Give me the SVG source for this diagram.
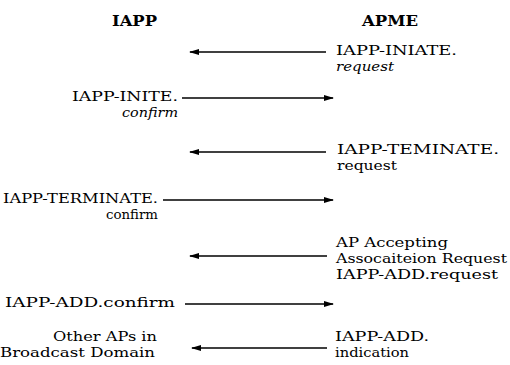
<svg xmlns="http://www.w3.org/2000/svg" width="510" height="365" viewBox="0 0 510 365">
<defs>
<marker id="ah" markerWidth="10" markerHeight="8" refX="9" refY="4" orient="auto" markerUnits="userSpaceOnUse">
<path d="M0,1 L10,4 L0,7 Z" fill="#000"/>
</marker>
</defs>
<style>
text{font-family:"DejaVu Serif","Liberation Serif",serif;font-size:13.6px;fill:#000}
.h{font-weight:bold;font-size:14px}
.i{font-style:italic}
.l{text-anchor:end}
.c line{stroke:#000;stroke-width:1.3;marker-end:url(#ah)}
</style>
<rect width="510" height="365" fill="#fff"/>
<g id="hdr-iapp"><text class="h" x="112" y="26" textLength="45" lengthAdjust="spacingAndGlyphs">IAPP</text></g>
<g id="hdr-apme"><text class="h" x="362" y="26" textLength="56" lengthAdjust="spacingAndGlyphs">APME</text></g>
<g id="n1"><text x="336" y="55" textLength="121" lengthAdjust="spacingAndGlyphs">IAPP-INIATE.</text><text class="i" x="336" y="71" textLength="58" lengthAdjust="spacingAndGlyphs">request</text></g>
<g id="n2"><text class="l" x="178" y="101" textLength="106" lengthAdjust="spacingAndGlyphs">IAPP-INITE.</text><text class="l i" x="178" y="117" textLength="56" lengthAdjust="spacingAndGlyphs">confirm</text></g>
<g id="n3"><text x="337" y="154" textLength="162" lengthAdjust="spacingAndGlyphs">IAPP-TEMINATE.</text><text x="337" y="170" textLength="60" lengthAdjust="spacingAndGlyphs">request</text></g>
<g id="n4"><text class="l" x="158" y="203" textLength="155" lengthAdjust="spacingAndGlyphs">IAPP-TERMINATE.</text><text class="l" x="158" y="219" textLength="52" lengthAdjust="spacingAndGlyphs">confirm</text></g>
<g id="n5"><text x="336" y="247" textLength="112" lengthAdjust="spacingAndGlyphs">AP Accepting</text><text x="336" y="263" textLength="171" lengthAdjust="spacingAndGlyphs">Assocaiteion Request</text><text x="336" y="279" textLength="162" lengthAdjust="spacingAndGlyphs">IAPP-ADD.request</text></g>
<g id="n6"><text class="l" x="175" y="307" textLength="170" lengthAdjust="spacingAndGlyphs">IAPP-ADD.confirm</text></g>
<g id="n7"><text class="l" x="157" y="341" textLength="104" lengthAdjust="spacingAndGlyphs">Other APs in</text><text class="l" x="155" y="357" textLength="155" lengthAdjust="spacingAndGlyphs">Broadcast Domain</text></g>
<g id="n8"><text x="335" y="341" textLength="94" lengthAdjust="spacingAndGlyphs">IAPP-ADD.</text><text x="335" y="357" textLength="74" lengthAdjust="spacingAndGlyphs">indication</text></g>
<g id="connectors" class="c">
<line x1="326" y1="52" x2="190" y2="52"/>
<line x1="182" y1="98" x2="333" y2="98"/>
<line x1="326" y1="152" x2="190" y2="152"/>
<line x1="163" y1="200" x2="333" y2="200"/>
<line x1="327" y1="256" x2="190" y2="256"/>
<line x1="185" y1="304" x2="333" y2="304"/>
<line x1="327" y1="348" x2="192" y2="348"/>
</g>
</svg>
